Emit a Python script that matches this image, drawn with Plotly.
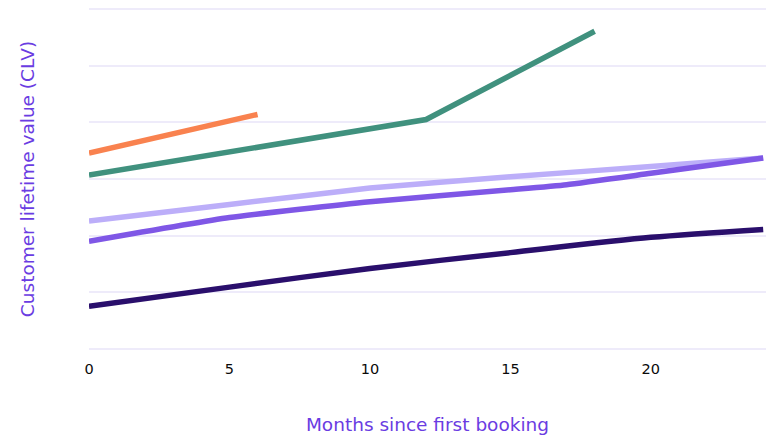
import plotly.graph_objects as go

# Data (months since first booking, CLV in arbitrary units)
dark_x = [0, 5, 10, 15, 20, 24]
dark_y = [0.75, 1.09, 1.42, 1.70, 1.97, 2.11]

mid_x = [0, 5, 10, 15, 17, 20, 24]
mid_y = [1.90, 2.32, 2.60, 2.81, 2.90, 3.10, 3.37]

light_x = [0, 5, 10, 15, 20, 24]
light_y = [2.26, 2.55, 2.84, 3.04, 3.22, 3.37]

green_x = [0, 6, 12, 18]
green_y = [3.07, 3.56, 4.05, 5.61]

orange_x = [0, 6]
orange_y = [3.46, 4.14]

x_ticks = [0, 5, 10, 15, 20]

FONT = "DejaVu Sans"
PURPLE_TXT = "#6A3CE2"

fig = go.Figure()

series = [
    (dark_x, dark_y, "#2A0F6C", "spline", 0.8),
    (light_x, light_y, "#BCAEF9", "spline", 0.3),
    (mid_x, mid_y, "#7F57E6", "spline", 0.5),
    (green_x, green_y, "#40917E", "linear", 0),
    (orange_x, orange_y, "#F9824F", "linear", 0),
]
for xs, ys, col, shape, sm in series:
    line = dict(color=col, width=5.5, shape=shape)
    if shape == "spline":
        line["smoothing"] = sm
    fig.add_trace(go.Scatter(
        x=xs, y=ys, mode="lines", line=line,
        showlegend=False, hoverinfo="skip",
    ))

# very subtle bottom background tint (lavender left, peach right), soft edges
nv, nh = 10, 5
for i in range(nv):
    top = -0.25 + (0.09 + 0.25) * (i + 1) / nv
    for j in range(nh):
        fig.add_shape(type="rect", xref="paper", yref="paper",
                      x0=-0.2, x1=0.1 + 0.12 * j, y0=-0.3, y1=top,
                      fillcolor="rgba(236,230,252,0.008)", line_width=0, layer="below")
        fig.add_shape(type="rect", xref="paper", yref="paper",
                      x0=0.35 + 0.12 * j, x1=1.05, y0=-0.3, y1=top,
                      fillcolor="rgba(252,236,226,0.008)", line_width=0, layer="below")

fig.update_layout(
    width=766, height=436,
    margin=dict(l=89, r=0, t=8, b=86),
    paper_bgcolor="white", plot_bgcolor="rgba(0,0,0,0)",
    font=dict(family=FONT),
    xaxis=dict(
        range=[0, 24.1], tickvals=x_ticks, showgrid=False, zeroline=False,
        showline=False, ticks="outside", ticklen=6, tickcolor="rgba(0,0,0,0)",
        tickfont=dict(size=14.5, color="#0A0A0A", family=FONT),
        title=dict(text="Months since first booking", standoff=41,
                   font=dict(size=18.5, color=PURPLE_TXT, family=FONT)),
        automargin=False,
    ),
    yaxis=dict(
        range=[-0.02, 6.02], tickvals=[0, 1, 2, 3, 4, 5, 6], showticklabels=False,
        showgrid=True, gridcolor="#EEEBFA", gridwidth=2, zeroline=False, showline=False,
        title=dict(text="Customer lifetime value (CLV)", standoff=48,
                   font=dict(size=18.5, color=PURPLE_TXT, family=FONT)),
        automargin=False,
    ),
)

fig.write_html("out.html")
